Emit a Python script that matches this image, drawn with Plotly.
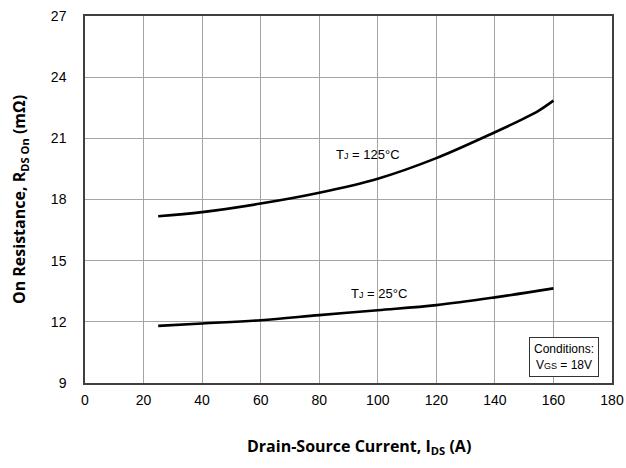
import plotly.graph_objects as go

ids = [25, 40, 60, 80, 100, 120, 140, 150, 155, 160]
r_125 = [17.18, 17.38, 17.8, 18.33, 19.02, 20.03, 21.3, 21.98, 22.36, 22.85]
ids_25 = [25, 40, 60, 80, 100, 120, 140, 160]
r_25 = [11.8, 11.92, 12.08, 12.33, 12.57, 12.82, 13.2, 13.64]

x_ticks = [0, 20, 40, 60, 80, 100, 120, 140, 160, 180]
y_ticks = [9, 12, 15, 18, 21, 24, 27]

fig = go.Figure()
fig.add_trace(go.Scatter(x=ids, y=r_125, mode="lines", line=dict(color="black", width=2.6, shape="spline"), showlegend=False))
fig.add_trace(go.Scatter(x=ids_25, y=r_25, mode="lines", line=dict(color="black", width=2.6, shape="spline"), showlegend=False))

fig.add_annotation(x=96.5, y=20.2, text="T<span style='font-size:9px'>J</span> = 125°C", showarrow=False,
                   font=dict(family="Liberation Sans, Arial", size=13, color="black"))
fig.add_annotation(x=100.5, y=13.4, text="T<span style='font-size:9px'>J</span> = 25°C", showarrow=False,
                   font=dict(family="Liberation Sans, Arial", size=13, color="black"))
fig.add_annotation(x=163.5, y=10.28, text="Conditions:<br>V<span style='font-size:9px'>GS</span> = 18V", showarrow=False,
                   font=dict(family="Liberation Sans, Arial", size=12, color="black"),
                   bgcolor="white", bordercolor="#333333", borderwidth=1, borderpad=4, align="center")
fig.add_annotation(x=0.52, y=-0.172, xref="paper", yref="paper", xanchor="center", yanchor="middle",
                   text="Drain-Source Current, I<sub>DS</sub> (A)", showarrow=False,
                   font=dict(family="Open Sans, Lato", size=16, color="black", weight="bold"))

axis_common = dict(showgrid=True, gridcolor="#aaa49f", gridwidth=1, showline=True, linecolor="#404040", linewidth=1.5,
                   mirror=True, ticks="", zeroline=False, automargin=False, ticklabeloverflow="allow",
                   tickfont=dict(family="Liberation Sans, Arial", size=14, color="black"))
fig.update_xaxes(range=[0, 180], tickvals=x_ticks, ticklabelstandoff=3, **axis_common)
fig.update_yaxes(range=[9, 27], tickvals=y_ticks, ticklabelstandoff=14, **axis_common,
                 title=dict(text="On Resistance, R<sub>DS On</sub> (mΩ)", standoff=21,
                            font=dict(family="Open Sans, Lato", size=16, color="black", weight="bold")))

fig.update_layout(width=626, height=468, margin=dict(l=85, r=14, t=16, b=85),
                  plot_bgcolor="white", paper_bgcolor="white")
fig.write_html("out.html", config={"displayModeBar": False},
               post_script="document.body.style.margin='0px';")
